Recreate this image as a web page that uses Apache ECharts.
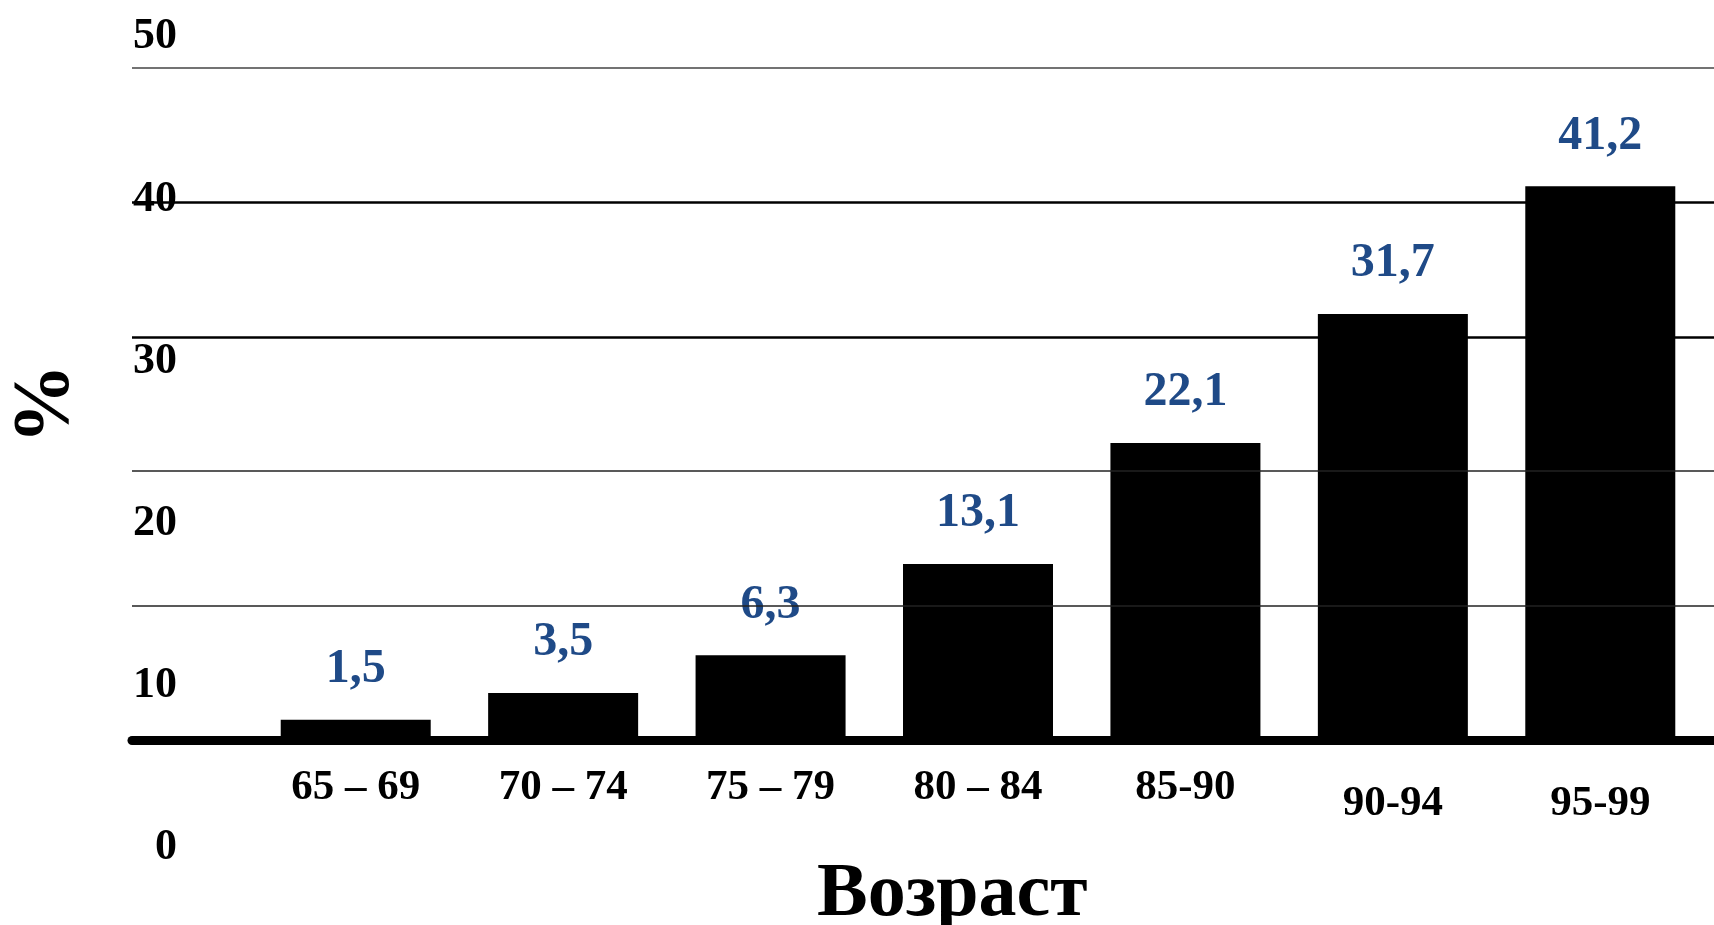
<!DOCTYPE html>
<html>
<head>
<meta charset="utf-8">
<script src="https://cdn.jsdelivr.net/npm/echarts@6/dist/echarts.min.js"></script>
<style>
html,body{margin:0;padding:0;background:#fff;}
#chart{width:1714px;height:925px;}
</style>
</head>
<body>
<div id="chart"></div>
<script>
// ---- data ----
const categories = ['65 – 69', '70 – 74', '75 – 79', '80 – 84', '85-90', '90-94', '95-99'];
const values = [1.5, 3.5, 6.3, 13.1, 22.1, 31.7, 41.2];
const yTicks = [0, 10, 20, 30, 40, 50];
const yTitle = '%';
const xTitle = 'Возраст';

const FONT = '"Liberation Serif", "Times New Roman", serif';
const BLUE = '#1F4A87';
const lineWidths = {0: 0, 10: 1.5, 20: 1.5, 30: 2.5, 40: 2.5, 50: 1.5};
const lineColors = {0: '#000', 10: '#222', 20: '#222', 30: '#000', 40: '#000', 50: '#444'};

const chart = echarts.init(document.getElementById('chart'), null, {renderer: 'canvas'});

const option = {
  backgroundColor: '#fff',
  animation: false,
  title: {
    text: xTitle,
    left: 812,
    top: 852,
    textStyle: {fontFamily: FONT, fontWeight: 'bold', fontSize: 76, color: '#000'}
  },
  grid: [
    {left: 252, right: 10, top: 68, bottom: 185, outerBoundsMode: 'none', containLabel: false},   // bars
    {left: 132, right: 0, top: 68, bottom: 185, outerBoundsMode: 'none', containLabel: false},    // grid lines
    {left: 185, width: 10, top: 37, bottom: 77, outerBoundsMode: 'none', containLabel: false}     // y labels
  ],
  xAxis: [
    {
      type: 'category', gridIndex: 0, data: categories,
      axisLine: {show: false}, axisTick: {show: false},
      axisLabel: {
        margin: 26, interval: 0,
        fontFamily: FONT, fontWeight: 'bold', fontSize: 43, color: '#000',
        formatter: function (v, i) { return (i >= 5 ? '{low|' : '{n|') + v + '}'; },
        rich: {
          n: {fontFamily: FONT, fontWeight: 'bold', fontSize: 43, color: '#000'},
          low: {fontFamily: FONT, fontWeight: 'bold', fontSize: 43, color: '#000', padding: [16, 0, 0, 0]}
        }
      }
    },
    {
      type: 'category', gridIndex: 1, data: [''], boundaryGap: false, offset: 5,
      axisLine: {show: true, lineStyle: {color: '#000', width: 9}},
      axisTick: {show: false}, axisLabel: {show: false}
    },
    {type: 'value', gridIndex: 2, show: false}
  ],
  yAxis: [
    {type: 'value', gridIndex: 0, min: 0, max: 50, interval: 10, show: false},
    {
      type: 'value', gridIndex: 1, min: 0, max: 50, interval: 10,
      name: yTitle, nameLocation: 'middle', nameRotate: 90, nameGap: 45,
      nameTextStyle: {fontFamily: FONT, fontWeight: 'bold', fontSize: 80, color: '#000'},
      axisLine: {show: false}, axisTick: {show: false}, axisLabel: {show: false},
      splitLine: {show: false}
    },
    {
      type: 'value', gridIndex: 2, min: 0, max: 50, interval: 10,
      axisLine: {show: false}, axisTick: {show: false}, splitLine: {show: false},
      axisLabel: {margin: 8, fontFamily: FONT, fontWeight: 'bold', fontSize: 44, color: '#000'}
    }
  ],
  series: [
    {
      type: 'line', xAxisIndex: 1, yAxisIndex: 1, data: [], silent: true, z: 1,
      markLine: {
        silent: true, symbol: 'none', label: {show: false},
        data: yTicks.filter(v => v > 0).map(v => ({
          yAxis: v,
          lineStyle: {type: 'solid', width: lineWidths[v], color: lineColors[v]}
        }))
      }
    },
    {
      type: 'bar', xAxisIndex: 0, yAxisIndex: 0, data: values, z: 3,
      barWidth: 150,
      itemStyle: {color: '#000'},
      label: {
        show: true, position: 'top', distance: 26,
        fontFamily: FONT, fontWeight: 'bold', fontSize: 48, color: BLUE,
        formatter: p => String(p.value).replace('.', ',')
      }
    }
  ]
};
chart.setOption(option);
</script>
</body>
</html>
